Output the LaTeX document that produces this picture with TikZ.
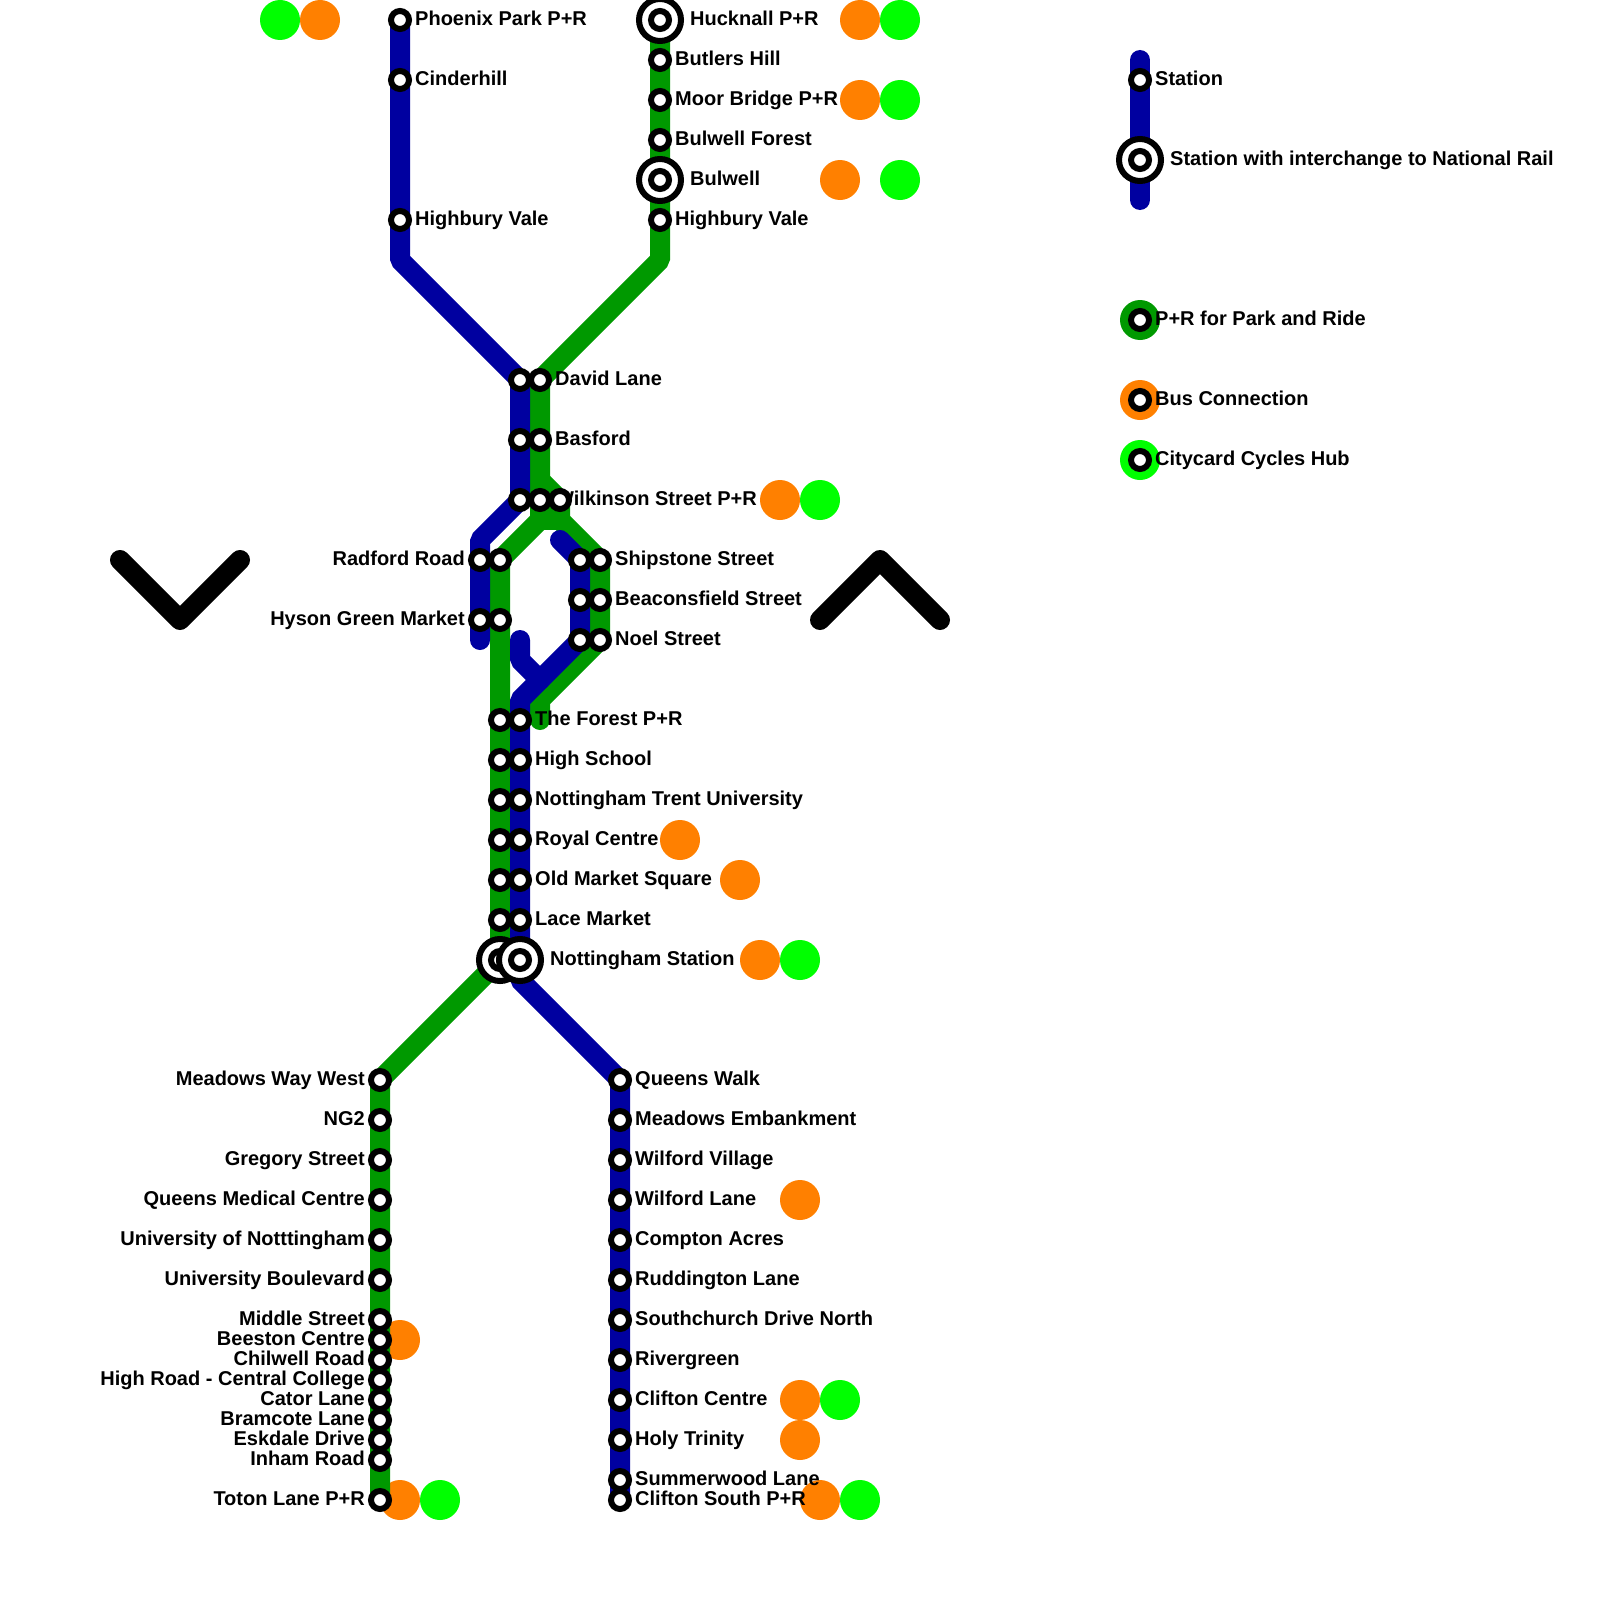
\documentclass[tikz,border=0pt]{standalone}
\usepackage{fontspec}
\setmainfont{Liberation Sans}
\usetikzlibrary{backgrounds}
\definecolor{tramblue}{HTML}{0000A0}
\definecolor{tramgreen}{HTML}{009900}
\definecolor{busorange}{HTML}{FF8000}
\definecolor{cyclelime}{HTML}{00FF00}
\tikzset{
  stn/.style={circle, draw=black, fill=white, line width=6pt, minimum size=18pt, inner sep=0pt},
  xchg/.style={circle, draw=black, fill=white, line width=6pt, minimum size=42pt, inner sep=0pt},
  txt/.style={font=\fontsize{20}{24}\selectfont\bfseries, inner sep=0pt, text=black},
  lblr/.style={txt, anchor=base west, xshift=15pt, yshift=-5.5pt},
  lblx/.style={txt, anchor=base west, xshift=30pt, yshift=-5.5pt},
  lbll/.style={txt, anchor=base east, xshift=-15pt, yshift=-5.5pt},
  busdot/.style={circle, fill=busorange, minimum size=40pt, inner sep=0pt},
  cycledot/.style={circle, fill=cyclelime, minimum size=40pt, inner sep=0pt},
  prdot/.style={circle, fill=tramgreen, minimum size=40pt, inner sep=0pt},
  blueline/.style={line width=20pt, draw=tramblue, line cap=round, line join=bevel},
  greenline/.style={line width=20pt, draw=tramgreen, line cap=round, line join=bevel},
  chevron/.style={line width=20pt, draw=black, line cap=round, line join=round}
}

\begin{document}
\begin{tikzpicture}[x=1pt, y=-1pt]
    \useasboundingbox (0,0) rectangle (1600,1600);

    \node[stn] (phoenix) at (400,20) {};
    \node[lblr] (phoenixl) at (phoenix) {Phoenix Park P+R};
    \node[stn] (cinderhill) at (400,80) {};
    \node[lblr] (cinderhilll) at (cinderhill) {Cinderhill};
    \node[stn] (highburyb) at (400,220) {};
    \node[lblr] (highburybl) at (highburyb) {Highbury Vale};

    \node[xchg] (hucknallo) at (660,20) {};
    \node[stn] (hucknall) at (660,20) {};
    \node[lblx] (hucknalll) at (hucknall) {Hucknall P+R};
    \node[stn] (butlers) at (660,60) {};
    \node[lblr] (butlersl) at (butlers) {Butlers Hill};
    \node[stn] (moor) at (660,100) {};
    \node[lblr] (moorl) at (moor) {Moor Bridge P+R};
    \node[stn] (bforest) at (660,140) {};
    \node[lblr] (bforestl) at (bforest) {Bulwell Forest};
    \node[xchg] (bulwello) at (660,180) {};
    \node[stn] (bulwell) at (660,180) {};
    \node[lblx] (bulwelll) at (bulwell) {Bulwell};
    \node[stn] (highburyg) at (660,220) {};
    \node[lblr] (highburygl) at (highburyg) {Highbury Vale};

    \node[stn] (davidb) at (520,380) {};
    \node[stn] (davidg) at (540,380) {};
    \node[lblr] (davidl) at (davidg) {David Lane};
    \node[stn] (basfordb) at (520,440) {};
    \node[stn] (basfordg) at (540,440) {};
    \node[lblr] (basfordl) at (basfordg) {Basford};
    \node[stn] (wilkb) at (520,500) {};
    \node[stn] (wilkg) at (540,500) {};
    \node[lblr] (wilkl) at (wilkg) {Wilkinson Street P+R};
    \node[stn] (wilkr) at (560,500) {};

    \node[stn] (radfordb) at (480,560) {};
    \node[lbll] (radfordl) at (radfordb) {Radford Road};
    \node[stn] (radfordg) at (500,560) {};
    \node[stn] (hysonb) at (480,620) {};
    \node[lbll] (hysonl) at (hysonb) {Hyson Green Market};
    \node[stn] (hysong) at (500,620) {};

    \node[stn] (shipb) at (580,560) {};
    \node[stn] (shipg) at (600,560) {};
    \node[lblr] (shipl) at (shipg) {Shipstone Street};
    \node[stn] (beaconb) at (580,600) {};
    \node[stn] (beacong) at (600,600) {};
    \node[lblr] (beaconl) at (beacong) {Beaconsfield Street};
    \node[stn] (noelb) at (580,640) {};
    \node[stn] (noelg) at (600,640) {};
    \node[lblr] (noell) at (noelg) {Noel Street};

    \node[stn] (forestg) at (500,720) {};
    \node[stn] (forestb) at (520,720) {};
    \node[lblr] (forestl) at (forestb) {The Forest P+R};
    \node[stn] (schoolg) at (500,760) {};
    \node[stn] (schoolb) at (520,760) {};
    \node[lblr] (schooll) at (schoolb) {High School};
    \node[stn] (trentg) at (500,800) {};
    \node[stn] (trentb) at (520,800) {};
    \node[lblr] (trentl) at (trentb) {Nottingham Trent University};
    \node[stn] (royalg) at (500,840) {};
    \node[stn] (royalb) at (520,840) {};
    \node[lblr] (royall) at (royalb) {Royal Centre};
    \node[stn] (marketg) at (500,880) {};
    \node[stn] (marketb) at (520,880) {};
    \node[lblr] (marketl) at (marketb) {Old Market Square};
    \node[stn] (laceg) at (500,920) {};
    \node[stn] (laceb) at (520,920) {};
    \node[lblr] (lacel) at (laceb) {Lace Market};
    \node[xchg] (nottsgo) at (500,960) {};
    \node[stn] (nottsg) at (500,960) {};
    \node[xchg] (nottsbo) at (520,960) {};
    \node[stn] (nottsb) at (520,960) {};
    \node[lblx] (nottsl) at (nottsb) {Nottingham Station};

    \node[stn] (meadows) at (380,1080) {};
    \node[lbll] (meadowsl) at (meadows) {Meadows Way West};
    \node[stn] (ngtwo) at (380,1120) {};
    \node[lbll] (ngtwol) at (ngtwo) {NG2};
    \node[stn] (gregory) at (380,1160) {};
    \node[lbll] (gregoryl) at (gregory) {Gregory Street};
    \node[stn] (qmc) at (380,1200) {};
    \node[lbll] (qmcl) at (qmc) {Queens Medical Centre};
    \node[stn] (uni) at (380,1240) {};
    \node[lbll] (unil) at (uni) {University of Notttingham};
    \node[stn] (uniblvd) at (380,1280) {};
    \node[lbll] (uniblvdl) at (uniblvd) {University Boulevard};
    \node[stn] (middle) at (380,1320) {};
    \node[lbll] (middlel) at (middle) {Middle Street};
    \node[stn] (beeston) at (380,1340) {};
    \node[lbll] (beestonl) at (beeston) {Beeston Centre};
    \node[stn] (chilwell) at (380,1360) {};
    \node[lbll] (chilwelll) at (chilwell) {Chilwell Road};
    \node[stn] (highroad) at (380,1380) {};
    \node[lbll] (highroadl) at (highroad) {High Road - Central College};
    \node[stn] (cator) at (380,1400) {};
    \node[lbll] (catorl) at (cator) {Cator Lane};
    \node[stn] (bramcote) at (380,1420) {};
    \node[lbll] (bramcotel) at (bramcote) {Bramcote Lane};
    \node[stn] (eskdale) at (380,1440) {};
    \node[lbll] (eskdalel) at (eskdale) {Eskdale Drive};
    \node[stn] (inham) at (380,1460) {};
    \node[lbll] (inhaml) at (inham) {Inham Road};
    \node[stn] (toton) at (380,1500) {};
    \node[lbll] (totonl) at (toton) {Toton Lane P+R};

    \node[stn] (queens) at (620,1080) {};
    \node[lblr] (queensl) at (queens) {Queens Walk};
    \node[stn] (embank) at (620,1120) {};
    \node[lblr] (embankl) at (embank) {Meadows Embankment};
    \node[stn] (village) at (620,1160) {};
    \node[lblr] (villagel) at (village) {Wilford Village};
    \node[stn] (wilford) at (620,1200) {};
    \node[lblr] (wilfordl) at (wilford) {Wilford Lane};
    \node[stn] (compton) at (620,1240) {};
    \node[lblr] (comptonl) at (compton) {Compton Acres};
    \node[stn] (ruddington) at (620,1280) {};
    \node[lblr] (ruddingtonl) at (ruddington) {Ruddington Lane};
    \node[stn] (southchurch) at (620,1320) {};
    \node[lblr] (southchurchl) at (southchurch) {Southchurch Drive North};
    \node[stn] (rivergreen) at (620,1360) {};
    \node[lblr] (rivergreenl) at (rivergreen) {Rivergreen};
    \node[stn] (clifton) at (620,1400) {};
    \node[lblr] (cliftonl) at (clifton) {Clifton Centre};
    \node[stn] (trinity) at (620,1440) {};
    \node[lblr] (trinityl) at (trinity) {Holy Trinity};
    \node[stn] (summerwood) at (620,1480) {};
    \node[lblr] (summerwoodl) at (summerwood) {Summerwood Lane};
    \node[stn] (cliftons) at (620,1500) {};
    \node[lblr] (cliftonsl) at (cliftons) {Clifton South P+R};

    \node[stn] (keystn) at (1140,80) {};
    \node[lblr] (keystnl) at (keystn) {Station};
    \node[xchg] (keyxchgo) at (1140,160) {};
    \node[stn] (keyxchg) at (1140,160) {};
    \node[lblx] (keyxchgl) at (keyxchg) {Station with interchange to National Rail};
    \node[stn] (keypr) at (1140,320) {};
    \node[lblr] (keyprl) at (keypr) {P+R for Park and Ride};
    \node[stn] (keybus) at (1140,400) {};
    \node[lblr] (keybusl) at (keybus) {Bus Connection};
    \node[stn] (keycycle) at (1140,460) {};
    \node[lblr] (keycyclel) at (keycycle) {Citycard Cycles Hub};

    \coordinate (gbendn) at (660,260);
    \coordinate (gforkr) at (540,480);
    \coordinate (gforkl) at (540,520);
    \coordinate (gforkb) at (560,520);
    \coordinate (gbendf) at (540,700);
    \coordinate (gend) at (540,720);
    \coordinate (bbendn) at (400,260);
    \coordinate (bbendr) at (480,540);
    \coordinate (bendr) at (480,640);
    \coordinate (bstart) at (560,540);
    \coordinate (bbendf) at (520,700);
    \coordinate (bbends) at (520,980);
    \coordinate (bstuba) at (520,640);
    \coordinate (bstubb) at (520,660);
    \coordinate (bjoin) at (540,680);
    \coordinate (keytop) at (1140,60);
    \coordinate (keybot) at (1140,200);
    \coordinate (chevla) at (120,560);
    \coordinate (chevlb) at (180,620);
    \coordinate (chevlc) at (240,560);
    \coordinate (chevra) at (820,620);
    \coordinate (chevrb) at (880,560);
    \coordinate (chevrc) at (940,620);

    \begin{scope}[on background layer]
    \node[cycledot] (cycparkl) at (280,20) {};
    \node[busdot] (busparkl) at (320,20) {};
    \node[busdot] (bushuck) at (860,20) {};
    \node[cycledot] (cychuck) at (900,20) {};
    \node[busdot] (busmoor) at (860,100) {};
    \node[cycledot] (cycmoor) at (900,100) {};
    \node[busdot] (busbulwell) at (840,180) {};
    \node[cycledot] (cycbulwell) at (900,180) {};
    \node[busdot] (buswilk) at (780,500) {};
    \node[cycledot] (cycwilk) at (820,500) {};
    \node[busdot] (busroyal) at (680,840) {};
    \node[busdot] (busmarket) at (740,880) {};
    \node[busdot] (busnotts) at (760,960) {};
    \node[cycledot] (cycnotts) at (800,960) {};
    \node[busdot] (busbeeston) at (400,1340) {};
    \node[busdot] (bustoton) at (400,1500) {};
    \node[cycledot] (cyctoton) at (440,1500) {};
    \node[busdot] (buswilford) at (800,1200) {};
    \node[busdot] (busclifton) at (800,1400) {};
    \node[cycledot] (cycclifton) at (840,1400) {};
    \node[busdot] (bustrinity) at (800,1440) {};
    \node[busdot] (buscliftons) at (820,1500) {};
    \node[cycledot] (cyccliftons) at (860,1500) {};
    \node[prdot] (keyprd) at (keypr) {};
    \node[busdot] (keybusd) at (keybus) {};
    \node[cycledot] (keycycled) at (keycycle) {};

    \draw[greenline] (hucknall.center) -- (gbendn) -- (davidg.center) -- (gforkl)
    -- (radfordg.center) -- (nottsg.center) -- (meadows.center) -- (toton.center);
    \draw[greenline] (gforkr) -- (wilkr.center) -- (gforkb) -- (shipg.center)
    -- (noelg.center) -- (gbendf) -- (gend);
    \draw[greenline] (gforkl) -- (gforkb);

    \draw[blueline] (phoenix.center) -- (bbendn) -- (davidb.center) -- (wilkb.center)
    -- (bbendr) -- (bendr);
    \draw[blueline] (bstart) -- (shipb.center) -- (noelb.center) -- (bbendf)
    -- (bbends) -- (queens.center) -- (cliftons.center);
    \draw[blueline] (bstuba) -- (bstubb) -- (bjoin);
    \draw[blueline] (keytop) -- (keybot);

    \draw[chevron] (chevla) -- (chevlb) -- (chevlc);
    \draw[chevron] (chevra) -- (chevrb) -- (chevrc);
    \end{scope}
\end{tikzpicture}
\end{document}
